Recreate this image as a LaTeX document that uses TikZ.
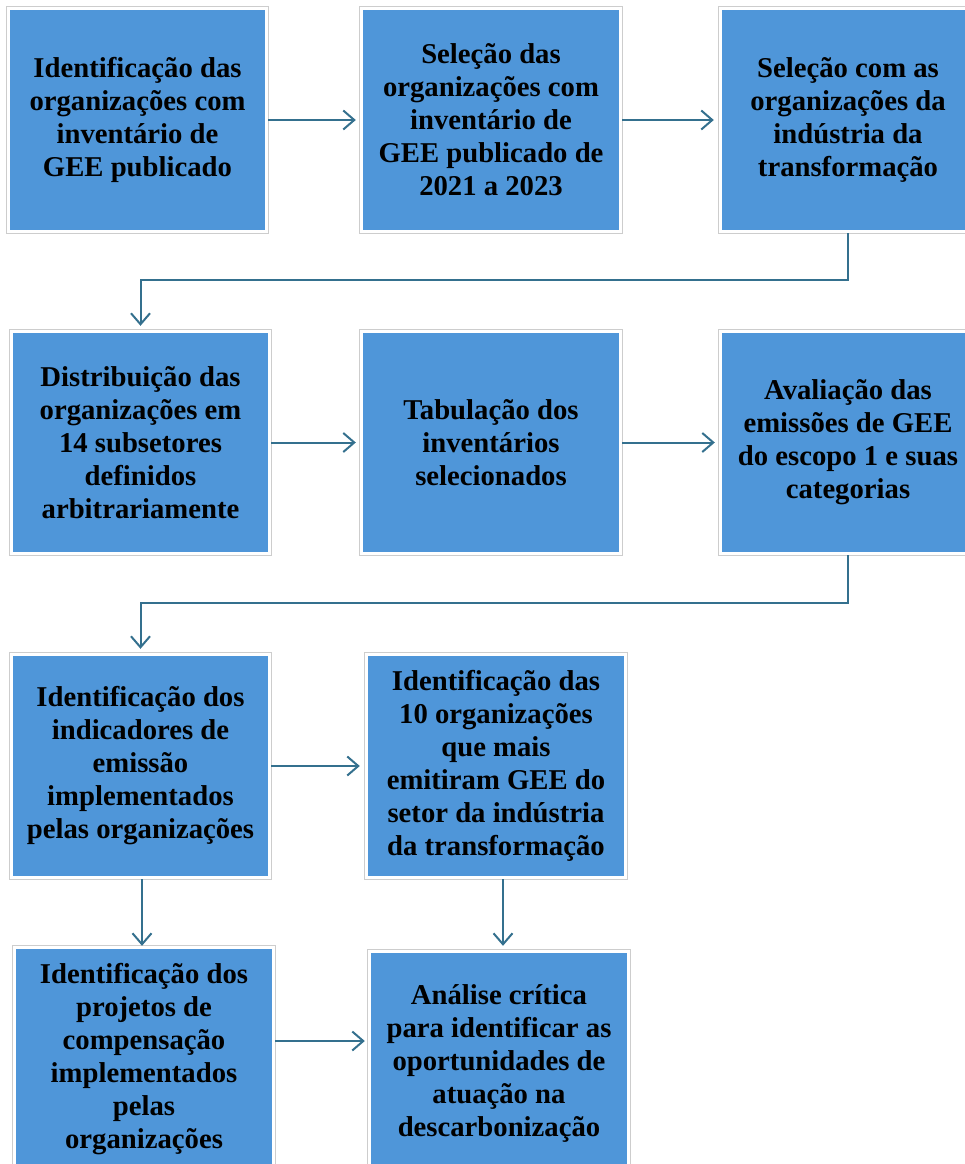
\documentclass[tikz,border=0pt]{standalone}
\usepackage{fontspec}
\setmainfont{Liberation Serif}
\usetikzlibrary{arrows.meta,calc}
\definecolor{boxblue}{RGB}{79,150,217}
\definecolor{framegray}{RGB}{205,205,205}
\definecolor{conncol}{RGB}{52,112,142}
\tikzset{
  stepbox/.style={fill=boxblue, inner sep=0pt, align=center, minimum height=220pt,
    font=\fontsize{28.7}{33}\selectfont\bfseries},
  frame/.style={draw=framegray, line width=1pt},
  conn/.style={draw=conncol, line width=2pt,
    -{Straight Barb[length=11pt,width=19pt,line width=2pt]}}
}
\begin{document}
\begin{tikzpicture}[x=1pt,y=-1pt]
\useasboundingbox (0,0) rectangle (965,1164);
\begin{scope}
\clip (0,0) rectangle (965,1164);
\node[stepbox, minimum width=255pt] (b1) at (137.5,120) {Identificação das\\organizações com\\inventário de\\GEE publicado};
\node[stepbox, minimum width=256pt] (b2) at (491,120) {Seleção das\\organizações com\\inventário de\\GEE publicado de\\2021 a 2023};
\node[stepbox, minimum width=252pt] (b3) at (848,120) {Seleção com as\\organizações da\\indústria da\\transformação};
\node[stepbox, minimum width=255pt, minimum height=219pt] (b4) at (140.5,442.5) {Distribuição das\\organizações em\\14 subsetores\\definidos\\arbitrariamente};
\node[stepbox, minimum width=256pt, minimum height=219pt] (b5) at (491,442.5) {Tabulação dos\\inventários\\selecionados};
\node[stepbox, minimum width=252pt, minimum height=219pt] (b6) at (848,442.5) {Avaliação das\\emissões de GEE\\do escopo 1 e suas\\categorias};
\node[stepbox, minimum width=255pt] (b7) at (140.5,766) {Identificação dos\\indicadores de\\emissão\\implementados\\pelas organizações};
\node[stepbox, minimum width=256pt] (b8) at (496,766) {Identificação das\\10 organizações\\que mais\\emitiram GEE do\\setor da indústria\\da transformação};
\node[stepbox, minimum width=256pt] (b9) at (144,1059) {Identificação dos\\projetos de\\compensação\\implementados\\pelas\\organizações};
\node[stepbox, minimum width=256pt] (b10) at (499,1063) {Análise crítica\\para identificar as\\oportunidades de\\atuação na\\descarbonização};
\foreach \n in {b1,b2,b3,b4,b5,b6,b7,b8,b9,b10}
  \draw[frame] ([xshift=-3pt,yshift=3pt]\n.north west) rectangle ([xshift=3pt,yshift=-3pt]\n.south east);
\end{scope}
% connectors
\coordinate (k1) at (0,280);
\coordinate (k2) at (0,603);
\draw[conn, shorten <=3pt, shorten >=7pt] (b1.east) -- (b2.west);
\draw[conn, shorten <=3pt, shorten >=8pt] (b2.east) -- (b3.west);
\draw[conn, shorten <=3pt, shorten >=7pt] (b3.south) -- (b3.south |- k1) -- (b4.north |- k1) -- (b4.north);
\draw[conn, shorten <=3pt, shorten >=7pt] (b4.east) -- (b5.west);
\draw[conn, shorten <=3pt, shorten >=7pt] (b5.east) -- (b6.west);
\draw[conn, shorten <=3pt, shorten >=7pt] (b6.south) -- (b6.south |- k2) -- (b7.north |- k2) -- (b7.north);
\draw[conn, shorten <=3pt, shorten >=8pt] (b7.east) -- (b8.west);
\draw[conn, shorten <=3pt, shorten >=3pt] ([xshift=1.5pt]b7.south) -- ([xshift=1.5pt]b7.south |- b9.north);
\draw[conn, shorten <=3pt, shorten >=7pt] ([xshift=7pt]b8.south) -- ([xshift=7pt]b8.south |- b10.north);
\draw[conn, shorten <=3pt, shorten >=6pt] ([yshift=18pt]b9.east) -- ([yshift=18pt]b9.east -| b10.west);
\end{tikzpicture}
\end{document}
